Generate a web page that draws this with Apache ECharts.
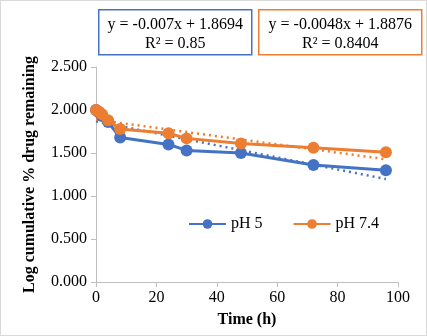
<!DOCTYPE html>
<html><head><meta charset="utf-8">
<script src="https://cdn.jsdelivr.net/npm/echarts@6/dist/echarts.min.js"></script>
<style>
html,body{margin:0;padding:0;background:#fff;}
#c{position:absolute;left:0;top:0;width:425px;height:334px;border:1px solid #d9d9d9;}
</style></head><body>
<div id="c"></div>
<script>
var timeH = [0, 1, 2, 4, 8, 24, 30, 48, 72, 96];
var ph5 = [2.0, 1.97, 1.93, 1.86, 1.68, 1.60, 1.53, 1.50, 1.36, 1.30];
var ph74 = [2.0, 1.98, 1.95, 1.88, 1.78, 1.73, 1.67, 1.61, 1.56, 1.51];
var trendX = [0, 96];
var trend5 = [1.869, 1.197];
var trend74 = [1.888, 1.427];
var yTicks = ['0.000','0.500','1.000','1.500','2.000','2.500'];
var eq5 = ['y = -0.007x + 1.8694', 'R² = 0.85'];
var eq74 = ['y = -0.0048x + 1.8876', 'R² = 0.8404'];

var blue = '#4472C4', orange = '#ED7D31';
var font = '"Liberation Serif","Times New Roman",serif';
function pairs(xs, ys){ return xs.map(function(x,i){return [x, ys[i]];}); }

var chart = echarts.init(document.getElementById('c'));
chart.setOption({
  animation:false,
  grid:{left:95,right:28,top:66,bottom:53},
  xAxis:{type:'value',min:0,max:100,interval:20,
    axisLine:{lineStyle:{color:'#bfbfbf',width:1}},
    axisTick:{show:true,length:5,lineStyle:{color:'#bfbfbf'}},
    splitLine:{show:false},
    axisLabel:{color:'#000',fontFamily:font,fontSize:16,margin:8},
    name:'Time (h)',nameLocation:'middle',nameGap:30,
    nameTextStyle:{color:'#000',fontFamily:font,fontSize:16,fontWeight:'bold'}},
  yAxis:{type:'value',min:0,max:2.5,interval:0.5,
    axisLine:{show:true,lineStyle:{color:'#bfbfbf',width:1}},
    axisTick:{show:true,length:5,lineStyle:{color:'#bfbfbf'}},
    splitLine:{show:false},
    axisLabel:{color:'#000',fontFamily:font,fontSize:16,margin:9,
      formatter:function(v){return yTicks[Math.round(v/0.5)];}},
    name:'Log cumulative % drug remaining',nameLocation:'middle',nameGap:58,
    nameTextStyle:{color:'#000',fontFamily:font,fontSize:16,fontWeight:'bold'}},
  legend:{left:182,top:210,itemWidth:37,itemHeight:12,itemGap:30,
    textStyle:{fontFamily:font,fontSize:16,color:'#000'},
    data:['pH 5','pH 7.4']},
  series:[
    {name:'trend5',type:'line',data:pairs(trendX,trend5),symbol:'none',z:1,
     lineStyle:{color:blue,width:2.5,type:[2,4]}},
    {name:'trend74',type:'line',data:pairs(trendX,trend74),symbol:'none',z:1,
     lineStyle:{color:orange,width:2.5,type:[2,4]}},
    {name:'pH 5',type:'line',data:pairs(timeH,ph5),symbol:'circle',symbolSize:12,
     itemStyle:{color:blue},lineStyle:{color:blue,width:3},z:3},
    {name:'pH 7.4',type:'line',data:pairs(timeH,ph74),symbol:'circle',symbolSize:12,
     itemStyle:{color:orange},lineStyle:{color:orange,width:3},z:4}
  ],
  graphic:[
    {type:'group',left:97,top:8,children:[
      {type:'rect',shape:{x:0,y:0,width:153,height:45},style:{fill:'#fff',stroke:blue,lineWidth:1.5}},
      {type:'text',x:76.5,y:15,style:{text:eq5[0],font:'16px '+font,fill:'#000',align:'center',verticalAlign:'middle'}},
      {type:'text',x:76.5,y:34,style:{text:eq5[1],font:'16px '+font,fill:'#000',align:'center',verticalAlign:'middle'}}
    ]},
    {type:'group',left:257,top:8,children:[
      {type:'rect',shape:{x:0,y:0,width:163,height:45},style:{fill:'#fff',stroke:orange,lineWidth:1.5}},
      {type:'text',x:81.5,y:15,style:{text:eq74[0],font:'16px '+font,fill:'#000',align:'center',verticalAlign:'middle'}},
      {type:'text',x:81.5,y:34,style:{text:eq74[1],font:'16px '+font,fill:'#000',align:'center',verticalAlign:'middle'}}
    ]}
  ]
});
</script>
</body></html>
